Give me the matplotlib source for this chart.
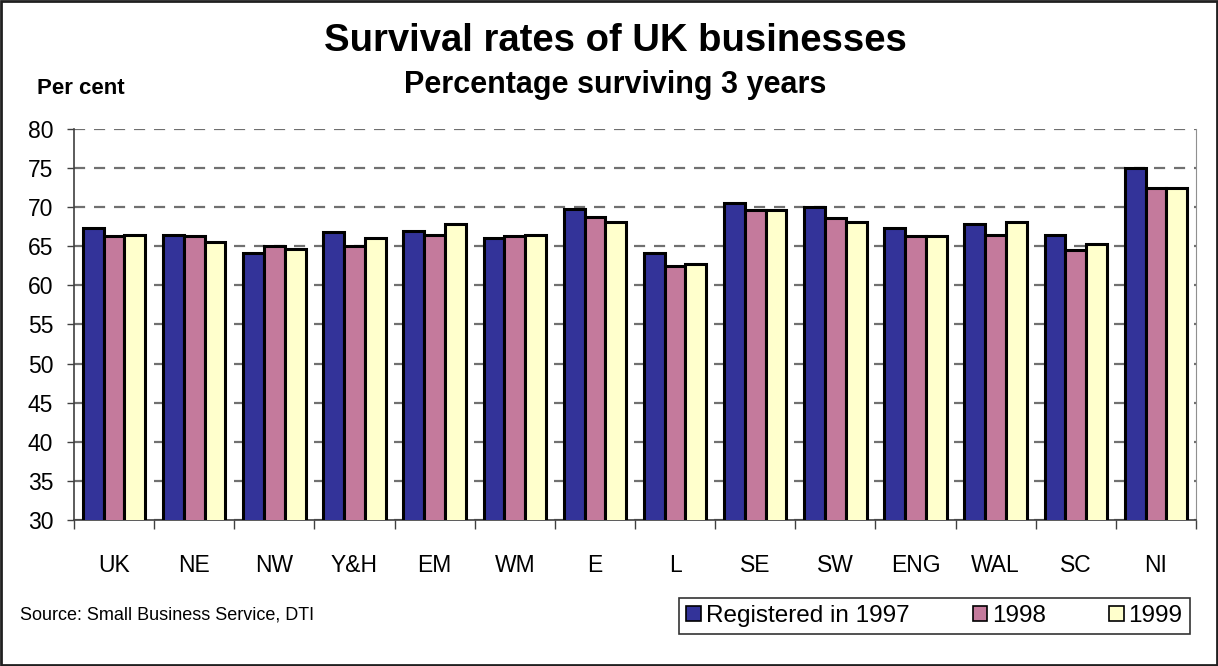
import matplotlib
matplotlib.use("Agg")
import matplotlib.pyplot as plt
import numpy as np
from matplotlib.patches import Rectangle

categories = ["UK", "NE", "NW", "Y&H", "EM", "WM", "E", "L", "SE", "SW", "ENG", "WAL", "SC", "NI"]
series_names = ["Registered in 1997", "1998", "1999"]
vals_1997 = [67.3, 66.5, 64.2, 66.8, 67.0, 66.0, 69.8, 64.2, 70.6, 70.0, 67.3, 67.8, 66.5, 75.0]
vals_1998 = [66.3, 66.3, 65.0, 65.0, 66.5, 66.3, 68.8, 62.5, 69.6, 68.6, 66.3, 66.5, 64.5, 72.4]
vals_1999 = [66.5, 65.5, 64.7, 66.0, 67.8, 66.5, 68.1, 62.7, 69.6, 68.1, 66.3, 68.1, 65.3, 72.4]
yticks = [30, 35, 40, 45, 50, 55, 60, 65, 70, 75, 80]

colors = ["#333399", "#C47A9C", "#FFFFCC"]

plt.rcParams['font.family'] = ['Liberation Sans', 'DejaVu Sans']

fig = plt.figure(figsize=(12.18, 6.66), dpi=100)
ax = fig.add_axes([74/1218, 1-520/666, (1196-74)/1218, (520-129)/666])

x = np.arange(len(categories))
w = 0.26
for i, (vals, c, name) in enumerate(zip([vals_1997, vals_1998, vals_1999], colors, series_names)):
    ax.bar(x + (i-1)*w, vals, width=w, bottom=0, color=c, edgecolor="black", linewidth=2.2,
           label=name, zorder=3)

ax.set_ylim(30, 80)
ax.set_xlim(-0.5, len(categories)-0.5)
ax.set_yticks(yticks)
ax.set_yticklabels([str(t) for t in yticks], fontsize=16.5)
ax.yaxis.grid(True, linestyle=(0, (5, 4)), color="#707070", linewidth=1.6, zorder=1)
ax.set_axisbelow(True)

ax.set_xticks(x)
ax.set_xticklabels(categories, fontsize=16.5)
ax.set_xticks(np.arange(-0.5, len(categories)), minor=True)
ax.tick_params(axis='x', which='major', length=0, pad=24.5)
ax.tick_params(axis='x', which='minor', length=6.5, width=1, direction='out', color='#404040')
ax.tick_params(axis='y', length=5, width=1, direction='out', color='#404040', pad=10)

ax.spines['top'].set_visible(False)
ax.spines['right'].set_color('#909090')
ax.spines['left'].set_color('#404040')
ax.spines['bottom'].set_color('#404040')
ax.spines['left'].set_linewidth(1.2)
ax.spines['bottom'].set_linewidth(1.2)

fig.text(0.505, 1-41/666, "Survival rates of UK businesses", ha='center', va='center',
         fontsize=27.5, fontweight='bold')
fig.text(615/1218, 1-85/666, "Percentage surviving 3 years", ha='center', va='center',
         fontsize=22, fontweight='bold')
fig.text(37/1218, 1-89/666, "Per cent", ha='left', va='center', fontsize=16, fontweight='bold')
fig.text(20/1218, 1-615/666, "Source: Small Business Service, DTI", ha='left', va='center', fontsize=13)

leg = fig.legend(loc='center', bbox_to_anchor=((674+1195)/2/1218, 1-616/666), ncol=3,
                 fontsize=17.5, frameon=True, fancybox=False, edgecolor='black',
                 handlelength=0.6, handleheight=0.6, handletextpad=0.2, columnspacing=2.6,
                 borderpad=0.3, borderaxespad=0)
leg.get_frame().set_linewidth(1.2)
for h in leg.legend_handles:
    h.set_linewidth(1.2)

fig.patches.append(Rectangle((0.001, 0.001), 0.998, 0.997, transform=fig.transFigure,
                             fill=False, edgecolor='#202020', linewidth=2))

fig.savefig("out.png", dpi=100)
